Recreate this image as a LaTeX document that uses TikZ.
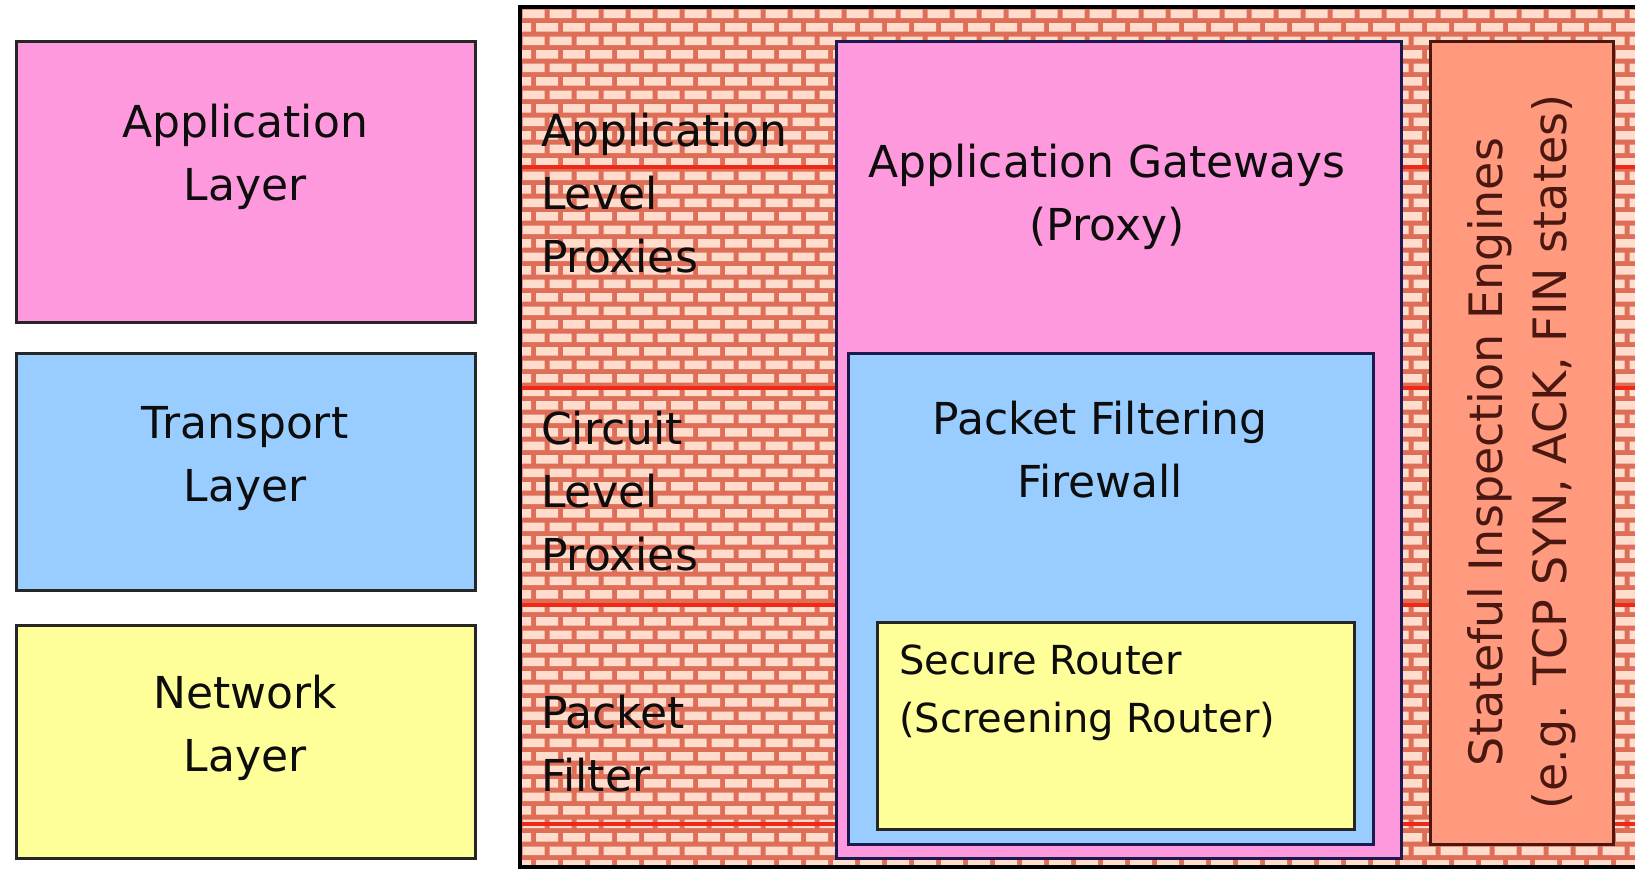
\documentclass[tikz,border=0pt]{standalone}
\usepackage{fontspec}
\setmainfont{DejaVu Sans}
\definecolor{apppink}{HTML}{FF99DD}
\definecolor{tblue}{HTML}{99CCFF}
\definecolor{nyellow}{HTML}{FFFF99}
\definecolor{salmon}{HTML}{FF9A7E}
\definecolor{mortar}{HTML}{DE6E58}
\definecolor{brickc}{HTML}{FFDCCC}
\definecolor{redline}{HTML}{F02818}
\definecolor{navy}{HTML}{1A1A50}
\definecolor{brownd}{HTML}{4A1810}
\tikzset{
  x=1pt, y=-1pt,
  layerbox/.style={draw=black!85, line width=2.5pt},
  bigtxt/.style={font=\fontsize{44}{63}\selectfont, inner sep=0pt, text=black!95},
  rottxt/.style={font=\fontsize{46}{64}\selectfont, inner sep=0pt},
  smalltxt/.style={font=\fontsize{40}{58}\selectfont, inner sep=0pt, text=black!95},
}
\begin{document}
\begin{tikzpicture}
\useasboundingbox (0,0) rectangle (1635,871);
\fill[white] (0,0) rectangle (1635,871);
% brick wall
\begin{scope}
\clip (520,7) rectangle (1640,867);
\fill[mortar] (520,7) rectangle (1640,867);
\fill[brickc] \foreach \r in {0,...,64} { \foreach \c in {-1,...,42} { ({520+\c*27+mod(\r,2)*13.5+2.5}, {7+\r*13.5+2.5}) rectangle ++(22,8.5) } };
\foreach \yy in {167,388,605,824} \draw[redline, line width=3.5pt] (520,\yy) -- (1640,\yy);
\end{scope}
\draw[black, line width=4pt] (1640,7) -- (520,7) -- (520,867) -- (1640,867);
% left layer boxes
\node[layerbox, fill=apppink, minimum width=459pt, minimum height=281pt, anchor=north west] (appl) at (15,40) {};
\node[layerbox, fill=tblue, minimum width=459pt, minimum height=237pt, anchor=north west] (trl) at (15,352) {};
\node[layerbox, fill=nyellow, minimum width=459pt, minimum height=233pt, anchor=north west] (netl) at (15,624) {};
\node[bigtxt, align=center] (appt) at (245,157) {Application\\Layer};
\node[bigtxt, align=center] (trt) at (245,459) {Transport\\Layer};
\node[bigtxt, align=center] (nett) at (245,728) {Network\\Layer};
% wall labels
\node[bigtxt, align=left, anchor=west] (alp) at (541,193) {Application\\Level\\Proxies};
\node[bigtxt, align=left, anchor=west] (clp) at (541,491) {Circuit\\Level\\Proxies};
\node[bigtxt, align=left, anchor=west] (pf) at (541,744) {Packet\\Filter};
% nested boxes
\node[draw=navy, line width=3pt, fill=apppink, minimum width=565pt, minimum height=817pt, anchor=north west] (gw) at (835,40) {};
\node[draw=navy, line width=3pt, fill=tblue, minimum width=525pt, minimum height=491pt, anchor=north west] (pff) at (847,352) {};
\node[draw=black!85, line width=3pt, fill=nyellow, minimum width=477pt, minimum height=207pt, anchor=north west] (sr) at (876,621) {};
\node[draw=brownd, line width=3pt, fill=salmon, minimum width=183pt, minimum height=803pt, anchor=north west] (st) at (1429,40) {};
\node[bigtxt, align=center] (gwt) at (1107,197) {Application Gateways\\(Proxy)};
\node[bigtxt, align=center] (pfft) at (1100,450) {Packet Filtering\\Firewall};
\node[smalltxt, align=left, anchor=west] (srt) at (899,693) {Secure Router\\(Screening Router)};
\node[rottxt, align=center, rotate=90, text=brownd] (stt) at (1522,452) {Stateful Inspection Engines\\(e.g. TCP SYN, ACK, FIN states)};
\end{tikzpicture}
\end{document}
